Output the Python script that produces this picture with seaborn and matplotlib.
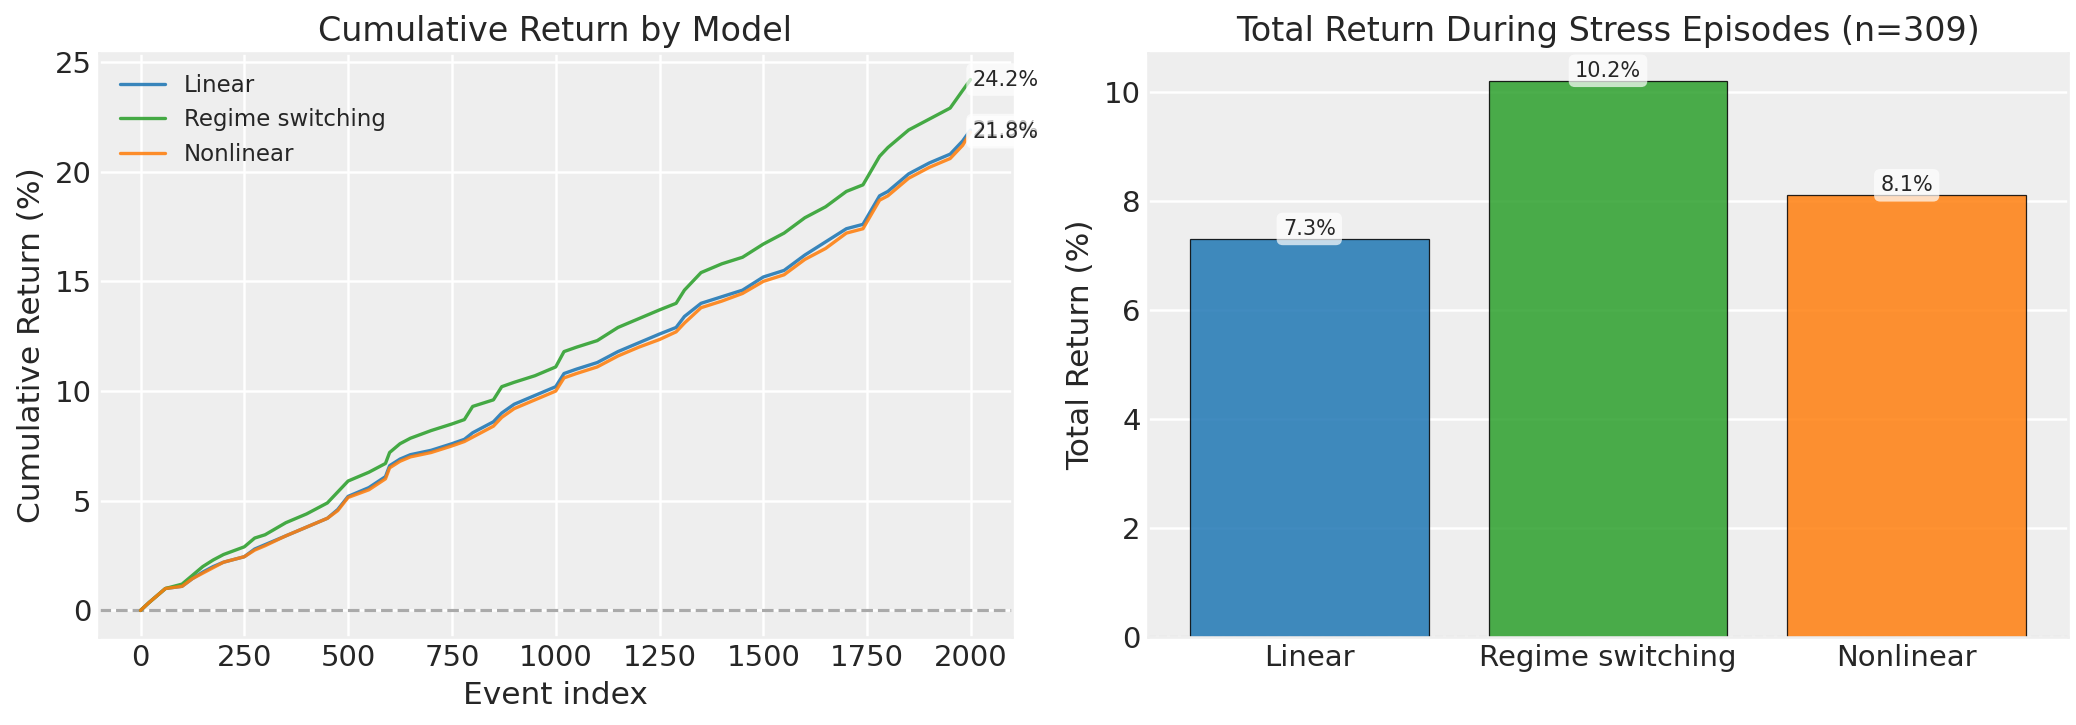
import numpy as np
import pandas as pd
import matplotlib
matplotlib.use("Agg")
import matplotlib.pyplot as plt
import seaborn as sns

# ---------------- data ----------------
models = ["Linear", "Regime switching", "Nonlinear"]
colors = ["#1f77b4", "#2ca02c", "#ff7f0e"]

event_idx = [0, 20, 60, 100, 125, 150, 175, 200, 250, 275, 300, 350, 400, 450, 475,
             500, 550, 590, 600, 625, 650, 700, 750, 780, 800, 850, 870, 900, 950,
             1000, 1020, 1050, 1100, 1150, 1200, 1250, 1290, 1310, 1350, 1400, 1450,
             1500, 1550, 1600, 1650, 1700, 1740, 1780, 1800, 1850, 1900, 1950, 1980, 1999]

cum_regime = [0.0, 0.35, 1.0, 1.2, 1.6, 2.0, 2.3, 2.55, 2.9, 3.3, 3.45, 4.0, 4.4, 4.9, 5.4,
              5.9, 6.3, 6.7, 7.2, 7.6, 7.85, 8.2, 8.5, 8.7, 9.3, 9.6, 10.2, 10.4, 10.7,
              11.1, 11.8, 12.0, 12.3, 12.9, 13.3, 13.7, 14.0, 14.6, 15.4, 15.8, 16.1,
              16.7, 17.2, 17.9, 18.4, 19.1, 19.4, 20.7, 21.1, 21.9, 22.4, 22.9, 23.7, 24.2]

cum_linear = [0.0, 0.35, 1.0, 1.1, 1.45, 1.75, 2.0, 2.2, 2.45, 2.8, 3.0, 3.4, 3.8, 4.2, 4.6,
              5.2, 5.6, 6.1, 6.6, 6.9, 7.1, 7.3, 7.6, 7.8, 8.1, 8.6, 9.0, 9.4, 9.8,
              10.2, 10.8, 11.0, 11.3, 11.8, 12.2, 12.6, 12.9, 13.4, 14.0, 14.3, 14.6,
              15.2, 15.5, 16.2, 16.8, 17.4, 17.6, 18.9, 19.1, 19.9, 20.4, 20.8, 21.4, 21.9]

cum_nonlinear = [0.0, 0.35, 1.0, 1.1, 1.45, 1.7, 1.95, 2.2, 2.45, 2.75, 2.95, 3.4, 3.8, 4.2, 4.55,
                 5.15, 5.5, 6.0, 6.5, 6.8, 7.0, 7.2, 7.5, 7.7, 7.9, 8.4, 8.8, 9.2, 9.6,
                 10.0, 10.6, 10.8, 11.1, 11.6, 12.0, 12.35, 12.7, 13.1, 13.8, 14.1, 14.45,
                 15.0, 15.3, 16.0, 16.5, 17.2, 17.4, 18.7, 18.9, 19.7, 20.2, 20.6, 21.2, 21.8]

stress_returns = [7.3, 10.2, 8.1]
n_stress = 309

# ---------------- style ----------------
sns.set_theme(style="darkgrid", rc={
    "axes.facecolor": "#EEEEEE",
    "grid.color": "white",
    "grid.linewidth": 1.2,
    "axes.edgecolor": "#EEEEEE",
})
plt.rcParams["font.family"] = ["DejaVu Sans"]
plt.rcParams["text.color"] = "#262626"
plt.rcParams["axes.labelcolor"] = "#262626"
plt.rcParams["xtick.color"] = "#262626"
plt.rcParams["ytick.color"] = "#262626"

fig = plt.figure(figsize=(2076 / 150, 725 / 150), dpi=150)
ax1 = fig.add_axes([99 / 2076, 1 - 637 / 725, (1012 - 99) / 2076, (637 - 53) / 725])
ax2 = fig.add_axes([1148 / 2076, 1 - 637 / 725, (2068 - 1148) / 2076, (637 - 53) / 725])

# ---------------- left: cumulative returns ----------------
series = {"Linear": cum_linear, "Regime switching": cum_regime, "Nonlinear": cum_nonlinear}
df = pd.concat([pd.DataFrame({"Event index": event_idx, "value": v, "Model": m})
                for m, v in series.items()], ignore_index=True)
sns.lineplot(data=df, x="Event index", y="value", hue="Model", hue_order=models,
             palette=colors, linewidth=1.6, alpha=0.88, ax=ax1)
ax1.axhline(0, color="#AAAAAA", linestyle="--", linewidth=1.5, zorder=1)
for m in models:
    vals = series[m]
    ax1.annotate(f"{vals[-1]:.1f}%", xy=(event_idx[-1], vals[-1]), xytext=(1, 0),
                 textcoords="offset points", ha="left", va="center", fontsize=10,
                 bbox=dict(boxstyle="round,pad=0.3", fc="white", ec="none", alpha=0.7))
ax1.set_title("Cumulative Return by Model", fontsize=16)
ax1.set_xlabel("Event index", fontsize=15)
ax1.set_ylabel("Cumulative Return (%)", fontsize=15)
ax1.tick_params(labelsize=14, length=0)
ax1.set_xticks(range(0, 2001, 250))
leg = ax1.legend(loc="upper left", frameon=False, fontsize=11)
for line in leg.get_lines():
    line.set_alpha(0.88)

# ---------------- right: stress episodes ----------------
bdf = pd.DataFrame({"Model": models, "ret": stress_returns})
sns.barplot(data=bdf, x="Model", y="ret", hue="Model", palette=colors, order=models,
            hue_order=models, alpha=0.85, saturation=1, edgecolor="black", linewidth=0.6,
            legend=False, ax=ax2, width=0.8)
ax2.set_xlim(-0.54, 2.54)
ax2.axhline(0, color="#AAAAAA", linestyle="--", linewidth=1.0, zorder=0.5)
for i, v in enumerate(stress_returns):
    ax2.text(i, v, f"{v:.1f}%", ha="center", va="bottom", fontsize=10,
             bbox=dict(boxstyle="round,pad=0.3", fc="white", ec="none", alpha=0.7))
ax2.set_title(f"Total Return During Stress Episodes (n={n_stress})", fontsize=16)
ax2.set_xlabel("")
ax2.set_ylabel("Total Return (%)", fontsize=15)
ax2.tick_params(labelsize=14, length=0)
ax2.set_ylim(0, max(stress_returns) * 1.05)

fig.savefig("out.png", dpi=150)
